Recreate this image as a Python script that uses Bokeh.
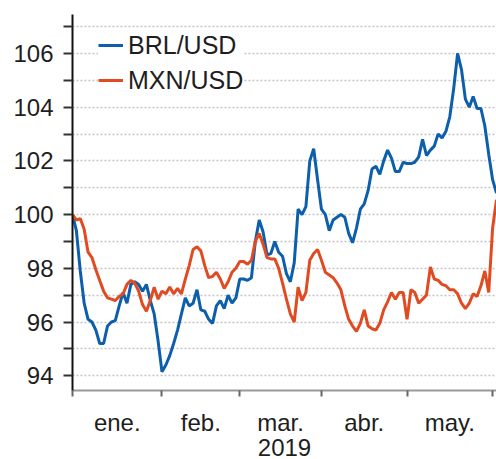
from bokeh.plotting import figure
from bokeh.models import Range1d, FixedTicker, CustomJSTickFormatter
from bokeh.embed import file_html
from bokeh.resources import INLINE

# ---- data ----
months = ["ene.", "feb.", "mar.", "abr.", "may."]
month_start_idx = [0, 23, 43, 64, 86, 108]
year_label = "2019"
series_names = ["BRL/USD", "MXN/USD"]
y_major = [94, 96, 98, 100, 102, 104, 106]
y_minor = [95, 97, 99, 101, 103, 105, 107]

brl = [
    100.0, 99.4, 97.9, 96.7, 96.1, 96.0, 95.7, 95.2, 95.2, 95.85,
    96.0, 96.05, 96.6, 97.1, 96.7, 97.4, 97.5, 97.4, 97.15, 97.4,
    96.8, 96.3, 95.3, 94.15, 94.4, 94.75, 95.2, 95.7, 96.3, 96.9,
    96.6, 96.7, 97.2, 96.45, 96.4, 96.1, 95.95, 96.6, 96.8, 96.5,
    97.0, 96.7, 96.9, 97.6, 97.6, 97.55, 97.65, 99.0, 99.8, 99.35,
    98.5, 98.55, 99.0, 98.6, 98.45, 97.8, 97.5, 98.2, 100.2, 100.0,
    100.3, 102.0, 102.45, 101.3, 100.2, 100.0, 99.4, 99.8, 99.9, 100.0,
    99.9, 99.3, 98.95, 99.5, 100.2, 100.4, 100.9, 101.7, 101.8, 101.5,
    102.0, 102.4, 102.1, 101.6, 101.6, 101.95, 101.9, 101.9, 101.95, 102.15,
    102.8, 102.2, 102.4, 102.55, 103.0, 102.85, 103.1, 103.65, 104.7, 106.0,
    105.4, 104.3, 104.0, 104.4, 103.95, 103.95, 103.3, 102.25, 101.3, 100.8,
]

mxn = [
    100.0, 99.8, 99.85, 99.45, 98.6, 98.4, 97.95, 97.55, 97.15, 96.9,
    96.85, 96.8, 96.95, 97.05, 97.4, 97.55, 97.45, 97.15, 96.65, 96.4,
    96.8, 97.3, 96.85, 97.15, 97.05, 97.3, 97.05, 97.25, 97.05, 97.6,
    98.1, 98.7, 98.8, 98.65, 98.1, 97.65, 97.7, 97.85, 97.6, 97.25,
    97.5, 97.85, 98.0, 98.25, 98.25, 98.15, 98.3, 99.0, 99.3, 98.9,
    98.4, 98.35, 98.35, 98.0, 97.45, 96.85, 96.3, 96.0, 97.3, 96.8,
    97.1, 98.3, 98.55, 98.7, 98.3, 97.85, 97.75, 97.65, 97.45, 97.2,
    96.6, 96.1, 95.85, 95.65, 95.95, 96.45, 95.85, 95.75, 95.7, 95.95,
    96.45, 96.75, 97.1, 96.85, 97.1, 97.1, 96.1, 97.2, 97.1, 96.7,
    96.85, 97.0, 98.05, 97.6, 97.55, 97.4, 97.35, 97.2, 97.2, 97.05,
    96.7, 96.5, 96.7, 97.05, 96.95, 97.35, 97.9, 97.1, 99.5, 100.55,
]

BLUE = "#0d5fab"
RED = "#e04b22"
TEXT = "#1e1e1e"
FONT = "Liberation Sans"

x = list(range(len(brl)))
mids = [(a + b) / 2 for a, b in zip(month_start_idx[:-1], month_start_idx[1:])]

p = figure(width=496, height=459, output_backend="svg", toolbar_location=None,
           x_range=Range1d(0, len(brl) - 1), y_range=Range1d(93.45, 107.45),
           min_border_left=72, min_border_right=0, min_border_top=14,
           min_border_bottom=69)
p.outline_line_color = None
p.background_fill_color = "white"
p.border_fill_color = "white"

p.line(x, brl, color=BLUE, line_width=3, legend_label=series_names[0])
p.line(x, mxn, color=RED, line_width=3, legend_label=series_names[1])

# y axis
yax = p.yaxis[0]
yax.ticker = FixedTicker(ticks=y_major, minor_ticks=y_minor)
yax.axis_line_color = "#111111"
yax.axis_line_width = 2
yax.major_tick_line_color = "#333333"
yax.minor_tick_line_color = "#333333"
yax.major_tick_line_width = 2
yax.minor_tick_line_width = 2
yax.major_tick_out = 9
yax.major_tick_in = 0
yax.minor_tick_out = 9
yax.minor_tick_in = 0
yax.major_label_standoff = 10
yax.major_label_text_font = FONT
yax.major_label_text_font_size = "24px"
yax.major_label_text_color = TEXT

# x axis
xax = p.xaxis[0]
xax.ticker = FixedTicker(ticks=mids, minor_ticks=month_start_idx)
xax.formatter = CustomJSTickFormatter(args=dict(pos=mids, names=months), code="""
for (let i = 0; i < pos.length; i++) {
  if (Math.abs(tick - pos[i]) < 0.01) { return names[i]; }
}
return "";
""")
xax.axis_line_color = "#999999"
xax.axis_line_width = 2
xax.major_tick_line_color = None
xax.major_tick_out = 0
xax.major_tick_in = 0
xax.minor_tick_line_color = "#666666"
xax.minor_tick_line_width = 2
xax.minor_tick_out = 6
xax.minor_tick_in = 0
xax.major_label_standoff = 12
xax.major_label_text_font = FONT
xax.major_label_text_font_size = "24px"
xax.major_label_text_color = TEXT
xax.axis_label = year_label
xax.axis_label_standoff = 0
xax.axis_label_text_font = FONT
xax.axis_label_text_font_size = "24px"
xax.axis_label_text_font_style = "normal"
xax.axis_label_text_color = TEXT

# grid
p.xgrid.grid_line_color = None
p.ygrid.grid_line_color = "#c4c4c4"
p.ygrid.grid_line_dash = "2 2"
p.ygrid.grid_line_width = 1.5
p.ygrid.minor_grid_line_color = "#c4c4c4"
p.ygrid.minor_grid_line_dash = "2 2"
p.ygrid.minor_grid_line_width = 1.5

# legend
lg = p.legend[0]
lg.location = (26, 295)
lg.margin = 0
lg.padding = 0
lg.spacing = 5
lg.border_line_color = None
lg.background_fill_color = "white"
lg.background_fill_alpha = 1.0
lg.glyph_width = 25
lg.glyph_height = 30
lg.label_height = 30
lg.label_standoff = 5
lg.label_text_font = FONT
lg.label_text_font_size = "25px"
lg.label_text_color = TEXT

open("out.html", "w").write(file_html(p, INLINE))
